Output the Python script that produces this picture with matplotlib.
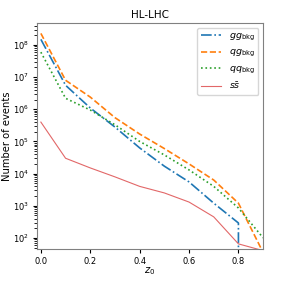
import numpy as np
import matplotlib
matplotlib.use("Agg")
import matplotlib.pyplot as plt

z0 = [0.0, 0.1, 0.2, 0.3, 0.4, 0.5, 0.6, 0.7, 0.8, 0.9]
gg_bkg = [1.5e8, 5.6e6, 1.1e6, 2.8e5, 6.3e4, 1.7e4, 5.5e3, 1.2e3, 290, 0]
qg_bkg = [2.3e8, 8.0e6, 2.4e6, 5.5e5, 1.7e5, 6.0e4, 2.0e4, 6.3e3, 1.2e3, 35]
qq_bkg = [6.0e7, 2.2e6, 9.5e5, 3.3e5, 1.0e5, 3.8e4, 1.3e4, 4.0e3, 850, 100]
ssbar = [4.0e5, 3.0e4, 1.5e4, 7.9e3, 4.0e3, 2.5e3, 1.3e3, 450, 65, 40]

plt.rcParams['font.size'] = 7.2
fig = plt.figure(figsize=(2.93, 2.82), dpi=100)
ax = fig.add_axes([0.126, 0.117, 0.772, 0.801])

ax.plot(z0, gg_bkg, '-.', color='tab:blue', lw=1.2, label=r'$gg_{\rm bkg}$')
ax.plot(z0, qg_bkg, '--', color='tab:orange', lw=1.2, label=r'$qg_{\rm bkg}$')
ax.plot(z0, qq_bkg, ':', color='tab:green', lw=1.2, label=r'$qq_{\rm bkg}$')
ax.plot(z0, ssbar, '-', color='tab:red', lw=0.8, alpha=0.7, label=r'$s\bar{s}$')

ax.set_yscale('log')
ax.set_xlim(-0.016, 0.9)
ax.set_ylim(45, 4.8e8)
ax.set_xticks([0.0, 0.2, 0.4, 0.6, 0.8])
ax.set_xlabel(r'$z_0$', labelpad=0)
ax.set_ylabel('Number of events', labelpad=1)
ax.set_title('HL-LHC', fontsize=7.5, pad=4)
for s in ax.spines.values():
    s.set_color('gray')
ax.tick_params(labelsize=6, length=3, pad=2.5)
ax.legend(loc='upper right', fontsize=6.8, handlelength=2.2)

fig.savefig('out.png', dpi=100)
